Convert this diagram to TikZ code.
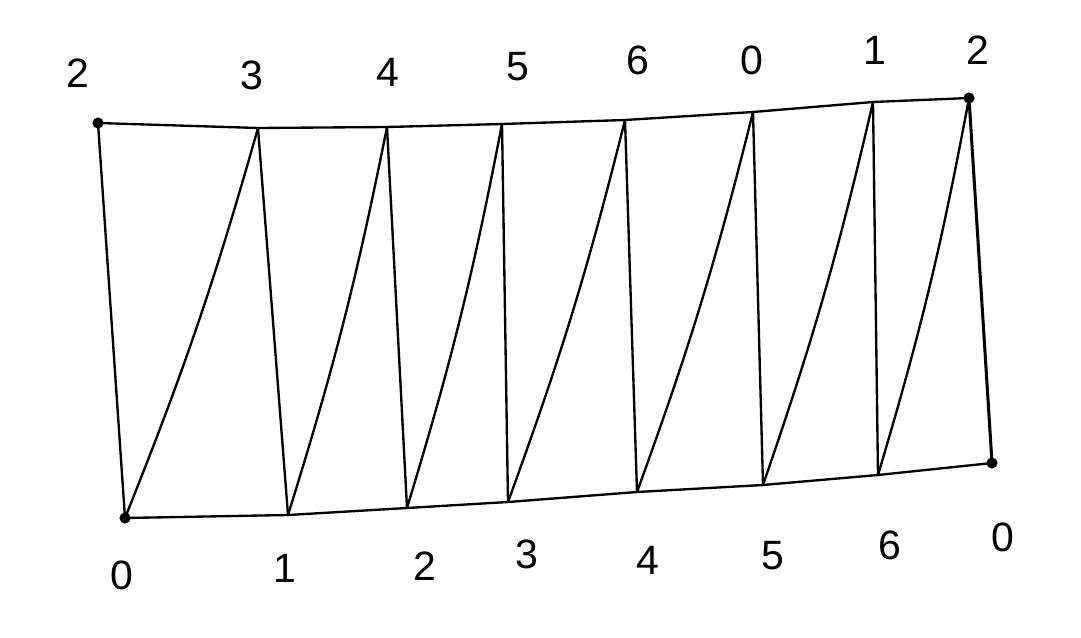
\documentclass[tikz,border=0pt]{standalone}
\usepackage{fontspec}
\setmainfont{Liberation Sans}
\usetikzlibrary{positioning}
\begin{document}
\begin{tikzpicture}[x=0.03cm,y=-0.03cm, every node/.style={font=\fontsize{35}{40}\selectfont,inner sep=0pt}]
\tikzstyle{pen}=[line width=2pt,line cap=round,line join=round]
\tikzstyle{corner}=[circle,fill,inner sep=0pt,minimum size=9.5pt]
\useasboundingbox (0,0) rectangle (1081,637);
% top row
\coordinate (tl) at (98,123);
\coordinate (t3) at (258,128);
\coordinate (t4) at (387,127);
\coordinate (t5) at (502,124);
\coordinate (t6) at (625,120);
\coordinate (t0) at (753,112);
\coordinate (t1) at (873,102);
\coordinate (tr) at (969,98);
% bottom row
\coordinate (bl) at (125,518);
\coordinate (b1) at (288,515);
\coordinate (b2) at (407,508);
\coordinate (b3) at (508,502);
\coordinate (b4) at (637,492);
\coordinate (b5) at (763,485);
\coordinate (b6) at (878,475);
\coordinate (br) at (992,463);
% labels
\node (ltl) at (78,73) {2};
\node (lt3) at (252,75) {3};
\node (lt4) at (388,72) {4};
\node (lt5) at (518,67) {5};
\node (lt6) at (638,60) {6};
\node (lt0) at (752,60) {0};
\node (lt1) at (875,50) {1};
\node (ltr) at (978,50) {2};
\node (lbl) at (122,575) {0};
\node (lb1) at (285,568) {1};
\node (lb2) at (425,566) {2};
\node (lb3) at (527,554) {3};
\node (lb4) at (648,560) {4};
\node (lb5) at (773,556) {5};
\node (lb6) at (890,545) {6};
\node (lbr) at (1003,537) {0};
% outline
\draw[pen] (tl) -- (t3) -- (t4) -- (t5) -- (t6) -- (t0) -- (t1) -- (tr);
\draw[pen] (bl) -- (b1) -- (b2) -- (b3) -- (b4) -- (b5) -- (b6) -- (br);
\draw[pen] (tl) -- (bl);
\draw[pen,line width=2.6pt] (tr) -- (br);
% rungs
\draw[pen] (t3) -- (b1);
\draw[pen] (t4) -- (b2);
\draw[pen] (t5) -- (b3);
\draw[pen] (t6) -- (b4);
\draw[pen] (t0) -- (b5);
\draw[pen] (t1) -- (b6);
% diagonals
\draw[pen] (bl) to[bend right=3] (t3);
\draw[pen] (b1) to[bend right=3] (t4);
\draw[pen] (b2) to[bend right=3] (t5);
\draw[pen] (b3) to[bend right=3] (t6);
\draw[pen] (b4) to[bend right=3] (t0);
\draw[pen] (b5) to[bend right=3] (t1);
\draw[pen] (b6) to[bend right=3] (tr);
% corners
\node[corner] (dtl) at (tl) {};
\node[corner] (dtr) at (tr) {};
\node[corner] (dbl) at (bl) {};
\node[corner] (dbr) at (br) {};
\end{tikzpicture}
\end{document}
